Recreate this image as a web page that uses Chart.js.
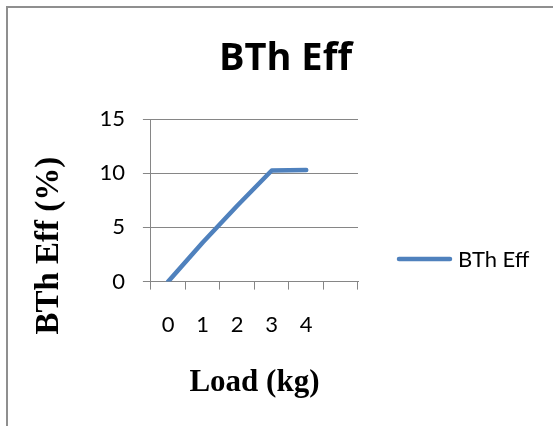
<!DOCTYPE html>
<html>
<head>
<meta charset="utf-8">
<script src="https://cdn.jsdelivr.net/npm/chart.js@4"></script>
<style>
  html, body { margin: 0; padding: 0; background: #fff; overflow: hidden }
  #frame { position: absolute; left: 6px; top: 6px; width: 600px; height: 500px; border: 2px solid #8f8f8f }
  #wrap  { position: absolute; left: 0; top: 0; width: 553px; height: 426px }
</style>
</head>
<body>
<div id="frame"></div>
<div id="wrap"><canvas id="grafico"></canvas></div>
<script>
// dados
const cargas     = ['0', '1', '2', '3', '4', '']
const eficiencia = [0, 3.6, 7.0, 10.25, 10.3, null]
const yMin   = 0
const yMax   = 15
const yPasso = 5
const titulo = 'BTh Eff'

const CINZA = '#868686'
const AZUL  = '#4F81BD'

// titulo e legenda no estilo do Excel (a legenda nativa fica limitada a 1/4 da largura)
const estiloExcel = {
  id: 'estiloExcel',
  afterDraw(chart, args, opts) {
    const ctx  = chart.ctx
    const area = chart.chartArea
    ctx.save()

    ctx.fillStyle = '#000'
    ctx.font = opts.fonteTitulo
    ctx.textAlign = 'center'
    ctx.textBaseline = 'alphabetic'
    ctx.fillText(opts.titulo, opts.tituloX, opts.tituloY)

    chart.data.datasets.forEach((ds, i) => {
      const y  = opts.legendaY + i * 30
      const x0 = area.right + opts.legendaGap
      const x1 = x0 + opts.legendaLinha
      ctx.strokeStyle = ds.borderColor
      ctx.lineWidth = ds.borderWidth
      ctx.lineCap = 'round'
      ctx.beginPath()
      ctx.moveTo(x0, y)
      ctx.lineTo(x1, y)
      ctx.stroke()
      ctx.font = opts.fonteLegenda
      ctx.textAlign = 'left'
      ctx.fillText(ds.label, x1 + 8, y + 8)
    })
    ctx.restore()
  },
}

new Chart(document.getElementById('grafico'), {
  type: 'line',
  data: {
    labels: cargas,
    datasets: [{
      label: 'BTh Eff',
      data: eficiencia,
      borderColor: AZUL,
      backgroundColor: AZUL,
      borderWidth: 4.5,
      borderCapStyle: 'round',
      borderJoinStyle: 'round',
      pointRadius: 0,
      tension: 0,
    }],
  },
  plugins: [estiloExcel],
  options: {
    responsive: true,
    maintainAspectRatio: false,
    animation: false,
    devicePixelRatio: 1,
    layout: { padding: { left: 30, right: 195, top: 119, bottom: 0 } },
    plugins: {
      title: { display: false },
      legend: { display: false },
      tooltip: { enabled: false },
      estiloExcel: {
        titulo,
        fonteTitulo: 'bold 38px "Open Sans"',
        tituloX: 285.5,
        tituloY: 70,
        fonteLegenda: '22px Lato',
        legendaY: 259,
        legendaGap: 41,
        legendaLinha: 51,
      },
    },
    scales: {
      x: {
        offset: true,
        grid: { display: true, drawOnChartArea: false, drawTicks: true, tickLength: 8, offset: true, color: CINZA },
        border: { display: true, color: CINZA },
        ticks: { color: '#000', font: { family: 'Lato', size: 22 }, padding: 21.8, maxRotation: 0, autoSkip: false },
        title: {
          display: true,
          text: 'Load (kg)',
          color: '#000',
          font: { family: 'Liberation Serif', weight: 'bold', size: 31 },
          padding: { top: 4.8, bottom: 24.4 },
        },
      },
      y: {
        min: yMin,
        max: yMax,
        grid: { color: CINZA, tickLength: 8 },
        border: { display: true, color: CINZA },
        ticks: { stepSize: yPasso, color: '#000', font: { family: 'Lato', size: 22 }, padding: 18 },
        title: {
          display: true,
          text: 'BTh Eff (%)' + ' '.repeat(11),
          color: '#000',
          font: { family: 'Liberation Serif', weight: 'bold', size: 33 },
          padding: { top: 0, bottom: 11.8 },
        },
      },
    },
  },
})
</script>
</body>
</html>
